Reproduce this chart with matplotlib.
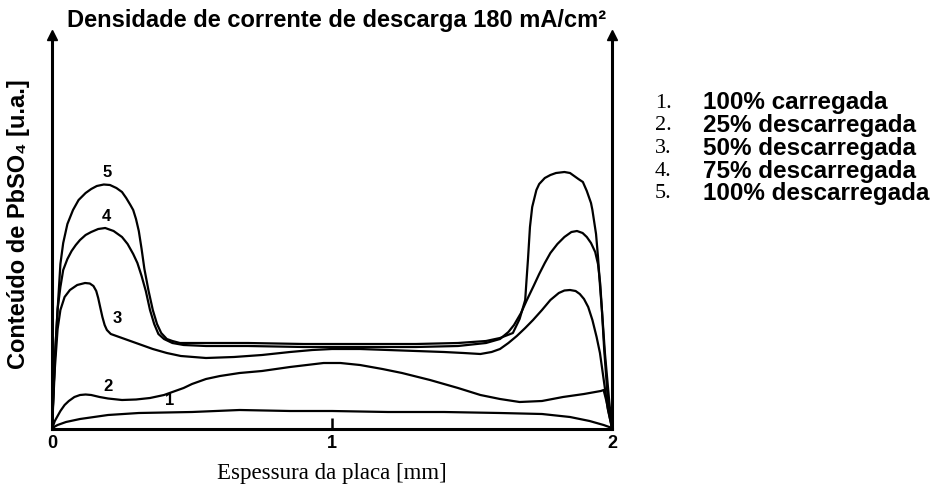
import matplotlib
matplotlib.use("Agg")
import matplotlib.pyplot as plt

plt.rcParams['font.family'] = ['Liberation Sans', 'DejaVu Sans']

# curve data (x in mm, y in arbitrary units)
x1 = [0, 0.01, 0.02, 0.05, 0.1, 0.2, 0.31, 0.5, 0.67, 0.85, 1.0, 1.2, 1.4, 1.6, 1.75, 1.85, 1.92, 1.97, 2.0]
y1 = [0, 2.5, 4, 7, 10, 14, 16, 17, 19, 18, 18, 17, 17, 16, 15, 12, 8, 4, 1]

x2 = [0, 0.01, 0.02, 0.03, 0.045, 0.06, 0.08, 0.1, 0.12, 0.14, 0.17, 0.2, 0.25, 0.3, 0.35,
      0.4, 0.43, 0.47, 0.5, 0.55, 0.6, 0.67, 0.75, 0.85, 0.97, 1.03, 1.1, 1.18, 1.25, 1.35,
      1.45, 1.53, 1.6, 1.67, 1.75, 1.825, 1.9, 1.96, 1.97, 1.98, 1.99, 2.0]
y2 = [0, 8, 13, 18, 24, 28, 32, 34, 34.5, 34, 32, 30.5, 29, 29.5, 31,
      34, 37, 41, 45, 50, 53, 56, 58, 62, 66, 66, 64, 60, 56, 49,
      41, 34, 30, 27, 28, 32, 35, 38, 39, 28, 14, 1]

x3 = [0, 0.01, 0.02, 0.03, 0.045, 0.064, 0.09, 0.118, 0.135, 0.148, 0.158, 0.165, 0.172, 0.18,
      0.188, 0.196, 0.21, 0.24, 0.27, 0.31, 0.36, 0.41, 0.46, 0.55, 0.65, 0.75, 0.85, 0.93,
      1.0, 1.1, 1.2, 1.3, 1.4, 1.47, 1.53, 1.57, 1.6, 1.63, 1.66, 1.69, 1.718, 1.75, 1.78,
      1.81, 1.83, 1.85, 1.87, 1.885, 1.9, 1.915, 1.93, 1.945, 1.957, 1.97, 1.985, 2.0]
y3 = [0, 60, 100, 119, 132, 139, 144, 146, 145.5, 143, 138, 131, 122, 112,
      104, 99, 95, 92, 89, 85, 80, 76, 73, 71, 72, 74, 77, 79,
      80, 80, 79, 78, 77, 76, 75, 77, 80, 86, 93, 101, 109, 119, 129,
      136, 138.5, 139, 138, 135, 130, 122, 109, 92, 76, 50, 20, 1]

x4 = [0, 0.01, 0.02, 0.03, 0.04, 0.055, 0.07, 0.085, 0.1, 0.12, 0.14, 0.165, 0.19, 0.22, 0.25,
      0.27, 0.29, 0.305, 0.32, 0.335, 0.35, 0.365, 0.38, 0.4, 0.43, 0.47, 0.55, 0.7, 0.9,
      1.1, 1.3, 1.45, 1.55, 1.6, 1.63, 1.65, 1.675, 1.696, 1.72, 1.74, 1.76, 1.78, 1.805,
      1.83, 1.855, 1.875, 1.895, 1.91, 1.925, 1.94, 1.95, 1.958, 1.964, 1.975, 1.99, 2.0]
y4 = [0, 70, 120, 142, 159, 170, 178, 184, 189, 194, 197, 200, 201, 198, 192,
      185, 175, 166, 153, 138, 119, 105, 95, 90, 86, 84, 83, 83, 82,
      82, 82, 83, 86, 90, 97, 104, 116, 129, 143, 155, 166, 176, 185,
      192, 197, 198, 196, 192, 186, 177, 165, 145, 119, 75, 28, 1]

x5 = [0, 0.01, 0.02, 0.03, 0.04, 0.055, 0.075, 0.095, 0.12, 0.14, 0.16, 0.185, 0.207, 0.23,
      0.25, 0.265, 0.28, 0.29, 0.30, 0.31, 0.32, 0.33, 0.345, 0.36, 0.375, 0.39, 0.41, 0.43,
      0.457, 0.55, 0.7, 0.9, 1.1, 1.3, 1.45, 1.55, 1.6, 1.646, 1.67, 1.69, 1.695, 1.70, 1.707,
      1.715, 1.73, 1.74, 1.76, 1.78, 1.80, 1.83, 1.85, 1.87, 1.88, 1.896, 1.91, 1.925, 1.93,
      1.943, 1.95, 1.958, 1.964, 1.972, 1.985, 2.0]
y5 = [0, 70, 119, 165, 186, 205, 219, 229, 236, 240, 243, 244.5, 244, 241,
      237, 231, 224, 219, 210, 198, 180, 160, 138, 119, 105, 96, 90, 88,
      86, 86, 86, 85, 85, 85, 86, 88, 91, 96, 110, 129, 150, 170, 202,
      222, 239, 245, 251, 254, 256, 257, 256, 252, 250, 247, 238, 226, 219,
      195, 172, 140, 119, 80, 30, 1]

curves = [(x1, y1), (x2, y2), (x3, y3), (x4, y4), (x5, y5)]
curve_labels = ['1', '2', '3', '4', '5']
label_pos = [(0.42, 29), (0.2, 43), (0.232, 111), (0.193, 213), (0.196, 257)]

legend_nums = ['1.', '2.', '3.', '4.', '5.']
legend_texts = ['100% carregada', '25% descarregada', '50% descarregada',
                '75% descarregada', '100% descarregada']

W, H = 937, 490
fig = plt.figure(figsize=(W / 100, H / 100), dpi=100)
ax = fig.add_axes([52 / W, 61 / H, 560 / W, 394 / H])

for xs, ys in curves:
    ax.plot(xs, ys, color='black', lw=1.6, solid_joinstyle='round')

for lab, (lx, ly) in zip(curve_labels, label_pos):
    ax.text(lx, ly, lab, ha='center', va='center', fontsize=12, fontweight='bold')

ax.set_xlim(0, 2)
ax.set_ylim(0, 394)
ax.spines['top'].set_visible(False)
for s in ['left', 'right', 'bottom']:
    ax.spines[s].set_linewidth(2.2)
ax.set_yticks([])
ax.set_xticks([0, 1, 2])
ax.set_xticklabels(['0', '1', '2'], fontsize=13, fontweight='bold')
ax.tick_params(axis='x', direction='in', length=8, width=1.8, pad=4)

# arrow heads on both vertical axes
ax.plot([0, 1], [1, 1], '^', color='black', ms=7, transform=ax.transAxes, clip_on=False)

ax.set_xlabel('Espessura da placa [mm]', fontsize=16.5, family='Liberation Serif', labelpad=8)
ax.set_ylabel('Conteúdo de PbSO₄ [u.a.]', fontsize=17, fontweight='bold')
ax.yaxis.set_label_coords(-0.04, 0.52)

fig.text(337 / W, 1 - 21 / H, 'Densidade de corrente de descarga 180 mA/cm²',
         ha='center', va='center', fontsize=17, fontweight='bold')

for i, (n, t) in enumerate(zip(legend_nums, legend_texts)):
    yy = 1 - (103 + i * 22.7) / H
    fig.text(655 / W, yy, n, ha='left', va='center', fontsize=16, family='Liberation Serif')
    fig.text(703 / W, yy, t, ha='left', va='center', fontsize=17.5, fontweight='bold')

fig.savefig('out.png', dpi=100)
